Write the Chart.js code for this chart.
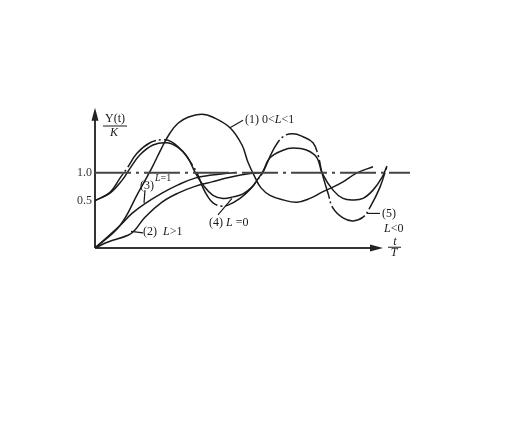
<!DOCTYPE html>
<html>
<head>
<meta charset="utf-8">
<script src="https://cdn.jsdelivr.net/npm/chart.js@4"></script>
<style>
  html, body { margin: 0; padding: 0; background: #fff; }
  #wrap { width: 509px; height: 421px; }
</style>
</head>
<body>
<div id="wrap"><canvas id="chart"></canvas></div>
<script>
// values: x = t/T, y = Y(t)/K
const curve1T = [0, 2.5, 4.3, 5.7, 6.7, 7.5, 8.3, 9.3, 10.7, 11.8, 13.5, 14.7, 15.3, 16.0, 16.6, 17.5, 18.8, 20.2, 21.5, 22.8, 23.8, 24.8, 26.2, 27.8];
const curve1Y = [0, 0.30, 0.73, 1.07, 1.34, 1.53, 1.66, 1.74, 1.78, 1.74, 1.60, 1.37, 1.14, 0.94, 0.80, 0.70, 0.64, 0.61, 0.66, 0.75, 0.81, 0.88, 1.00, 1.08];

const curve2T = [0, 1.3, 3.3, 4.0, 5.0, 6.7, 8.3, 10.0, 11.7, 13.5, 15.5, 16.5];
const curve2Y = [0, 0.08, 0.17, 0.24, 0.41, 0.61, 0.73, 0.82, 0.88, 0.94, 0.99, 1.0];

const curve3T = [0, 2.5, 3.7, 5.0, 6.7, 8.3, 10.0, 11.7, 13.0, 14.0];
const curve3Y = [0, 0.30, 0.46, 0.59, 0.73, 0.84, 0.93, 0.97, 0.99, 1.0];

const curve4T = [0, 1.5, 2.7, 3.5, 4.5, 5.8, 7.2, 8.3, 9.2, 10.0, 10.8, 11.8, 12.8, 13.8, 14.8, 15.7, 16.2, 16.8, 17.5, 18.8, 19.8, 21.2, 22.2, 22.7, 23.8, 24.8, 25.8, 26.8, 27.8, 28.7, 29.2];
const curve4Y = [0.63, 0.73, 0.90, 1.06, 1.24, 1.37, 1.40, 1.34, 1.22, 1.01, 0.84, 0.70, 0.66, 0.68, 0.72, 0.81, 0.90, 1.02, 1.20, 1.30, 1.33, 1.30, 1.20, 1.00, 0.77, 0.66, 0.64, 0.66, 0.77, 0.94, 1.09];

const curve5T = [0, 1.5, 2.5, 3.2, 4.2, 5.5, 6.8, 7.7, 8.8, 9.8, 10.3, 10.8, 11.3, 11.8, 12.5, 13.3, 14.5, 15.5, 16.2, 16.8, 17.8, 18.8, 19.8, 20.8, 21.8, 22.3, 22.7, 23.3, 23.8, 24.8, 25.8, 26.8, 27.5, 28.5, 29.2];
const curve5Y = [0.63, 0.74, 0.93, 1.06, 1.26, 1.40, 1.44, 1.41, 1.28, 1.09, 0.97, 0.80, 0.68, 0.60, 0.56, 0.57, 0.66, 0.78, 0.90, 1.01, 1.30, 1.48, 1.52, 1.48, 1.40, 1.24, 1.00, 0.73, 0.53, 0.40, 0.36, 0.41, 0.54, 0.81, 1.09];

const refT = [0, 31.5];
const refY = [1, 1];

const yTickValues = [0.63, 1.0];
const yTickLabels = ['0.5', '1.0'];

const SERIF = '"Liberation Serif", "DejaVu Serif", serif';
const INK = '#1a1a1a';

function toPoints(ts, ys) {
  return ts.map((t, i) => ({ x: t, y: ys[i] }));
}

function curve(ts, ys, extra) {
  return Object.assign({
    data: toPoints(ts, ys),
    showLine: true,
    borderColor: INK,
    borderWidth: 1.5,
    pointRadius: 0,
    tension: 0.4,
    fill: false
  }, extra || {});
}

// text labels, in data units (t, y)
const labels = [
  { runs: [['(1) 0<', 0], ['L', 1], ['<1', 0]], t: 15.0, v: 1.70, size: 12 },
  { runs: [['(2)', 0], ['  ', 0], ['L', 1], ['>1', 0]], t: 4.8, v: 0.21, size: 12 },
  { runs: [['(3)', 0]], t: 4.5, v: 0.83, size: 12 },
  { runs: [['L', 1], ['=1', 0]], t: 6.0, v: 0.93, size: 10 },
  { runs: [['(4) ', 0], ['L', 1], [' =0', 0]], t: 11.4, v: 0.33, size: 12 },
  { runs: [['(5)', 0]], t: 28.7, v: 0.46, size: 12 },
  { runs: [['L', 1], ['<0', 0]], t: 28.9, v: 0.26, size: 12 }
];

const leaders = [
  [13.5, 1.60, 14.8, 1.70],
  [3.6, 0.22, 4.8, 0.20],
  [5.0, 0.77, 4.9, 0.60],
  [12.3, 0.44, 13.7, 0.66],
  [27.2, 0.46, 28.5, 0.46]
];

function drawRuns(ctx, runs, x, y, size) {
  ctx.textBaseline = 'middle';
  ctx.textAlign = 'left';
  runs.forEach(([s, it]) => {
    ctx.font = (it ? 'italic ' : '') + size + 'px ' + SERIF;
    ctx.fillText(s, x, y);
    x += ctx.measureText(s).width;
  });
}

const figureDecor = {
  id: 'figureDecor',
  beforeDatasetsDraw(chart) {
    const ctx = chart.ctx;
    const xs = chart.scales.x, ys = chart.scales.y;
    const x0 = xs.getPixelForValue(0), y0 = ys.getPixelForValue(0);
    const xEnd = xs.getPixelForValue(28.8), yEnd = ys.getPixelForValue(1.865);
    ctx.save();
    ctx.strokeStyle = '#333';
    ctx.fillStyle = '#222';
    ctx.lineWidth = 2;
    ctx.beginPath();
    ctx.moveTo(x0, y0);
    ctx.lineTo(xEnd - 6, y0);
    ctx.moveTo(x0, y0);
    ctx.lineTo(x0, yEnd + 6);
    ctx.stroke();
    // arrow heads
    ctx.beginPath();
    ctx.moveTo(xEnd, y0);
    ctx.lineTo(xEnd - 13, y0 - 3.5);
    ctx.lineTo(xEnd - 13, y0 + 3.5);
    ctx.closePath();
    ctx.fill();
    ctx.beginPath();
    ctx.moveTo(x0, yEnd);
    ctx.lineTo(x0 - 3.5, yEnd + 13);
    ctx.lineTo(x0 + 3.5, yEnd + 13);
    ctx.closePath();
    ctx.fill();
    ctx.restore();
  },
  afterDatasetsDraw(chart) {
    const ctx = chart.ctx;
    const xs = chart.scales.x, ys = chart.scales.y;
    const px = (t) => xs.getPixelForValue(t);
    const py = (v) => ys.getPixelForValue(v);
    ctx.save();
    ctx.fillStyle = INK;
    ctx.strokeStyle = INK;
    ctx.lineWidth = 1.2;

    leaders.forEach(([t1, v1, t2, v2]) => {
      ctx.beginPath();
      ctx.moveTo(px(t1), py(v1));
      ctx.lineTo(px(t2), py(v2));
      ctx.stroke();
    });

    labels.forEach((l) => drawRuns(ctx, l.runs, px(l.t), py(l.v), l.size));

    // axis titles as fractions
    ctx.textAlign = 'center';
    ctx.textBaseline = 'middle';
    ctx.font = '12px ' + SERIF;
    ctx.fillText('Y(t)', px(2.0), py(1.715));
    ctx.font = 'italic 12px ' + SERIF;
    ctx.fillText('K', px(1.9), py(1.53));
    ctx.fillText('t', px(30.0), py(0.08));
    ctx.fillText('T', px(29.9), py(-0.06));
    ctx.lineWidth = 1;
    ctx.beginPath();
    ctx.moveTo(px(0.8), py(1.623));
    ctx.lineTo(px(3.2), py(1.623));
    ctx.moveTo(px(29.3), py(0.01));
    ctx.lineTo(px(30.6), py(0.01));
    ctx.stroke();
    ctx.restore();
  }
};

new Chart(document.getElementById('chart'), {
  type: 'scatter',
  data: {
    datasets: [
      curve(refT, refY, { borderColor: '#444', borderWidth: 2, borderDash: [36, 5, 3, 5], tension: 0 }),
      curve(curve1T, curve1Y),
      curve(curve2T, curve2Y),
      curve(curve3T, curve3Y),
      curve(curve4T, curve4Y),
      curve(curve5T, curve5Y, { borderDash: [40, 3, 2, 3] })
    ]
  },
  options: {
    responsive: true,
    maintainAspectRatio: false,
    animation: false,
    devicePixelRatio: 1,
    layout: { padding: { left: 65, right: 99, top: 110, bottom: 173 } },
    plugins: { legend: { display: false }, tooltip: { enabled: false } },
    scales: {
      x: { type: 'linear', min: 0, max: 31.5, display: false },
      y: {
        type: 'linear',
        min: 0,
        max: 1.836,
        grid: { display: false, drawTicks: false },
        border: { display: false },
        afterFit(scale) { scale.width = 30; },
        afterBuildTicks(scale) { scale.ticks = yTickValues.map((v) => ({ value: v })); },
        ticks: {
          padding: 3,
          color: '#333',
          font: { family: SERIF, size: 12 },
          callback: (val, i) => yTickLabels[i]
        }
      }
    }
  },
  plugins: [figureDecor]
});
</script>
</body>
</html>
